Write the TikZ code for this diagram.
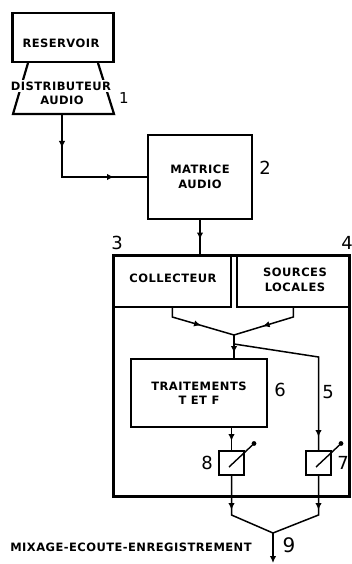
\documentclass[tikz,border=0pt]{standalone}
\usepackage{fontspec}
\usetikzlibrary{arrows.meta,decorations.markings,calc}
\newfontfamily\lblfont[LetterSpace=4]{DejaVu Sans}
\newfontfamily\numfont{DejaVu Sans}
\begin{document}
\begin{tikzpicture}[x=1pt,y=-1pt,
  box/.style={draw, line width=2.8pt, inner sep=0pt, outer sep=0pt},
  txt/.style={font=\lblfont\bfseries\fontsize{11.5}{14.5}\selectfont, align=center, inner sep=0pt},
  num/.style={font=\numfont\fontsize{18}{18}\selectfont, inner sep=0pt},
  conn/.style={line width=1.5pt},
  fad/.style={draw, line width=1.8pt, minimum width=25pt, minimum height=24pt, inner sep=0pt, outer sep=0pt},
  marr/.style={postaction={decorate,decoration={markings,
     mark=at position #1 with {\arrow{Latex[length=7pt,width=6.5pt]}}}}}]
\useasboundingbox (0,0) rectangle (352,564);
\fill[white] (0,0) rectangle (352,564);
% reservoir
\node[box, minimum width=101pt, minimum height=49pt] (res) at (63,37.5) {};
\node[txt] (restxt) at (61,43) {RESERVOIR};
% distributeur
\draw[line width=2.2pt] (28,63) -- (13,114) -- (114,114) -- (98,63);
\node[txt, fill=white, inner sep=1.5pt] (dist) at (61,86) {DISTRIBUTEUR};
\node[txt] (distb2) at (62,100) {AUDIO};
\coordinate (distb) at (62,114);
\node[num, font=\numfont\fontsize{15}{15}\selectfont] (n1) at (124,98) {1};
% matrice
\node[box, minimum width=104pt, minimum height=84pt, txt] (mat) at (200,177) {MATRICE\\AUDIO};
\node[num] (n2) at (265,168) {2};
\draw[conn, marr=34pt, marr=-34pt] (distb) -- (distb |- mat.west) -- (mat.west);
% big box
\node[box, minimum width=236pt, minimum height=241pt] (big) at (231.5,376) {};
\node[box, minimum width=117.5pt, minimum height=51.5pt] (coll) at (172.25,281.25) {};
\node[box, minimum width=112.5pt, minimum height=51.5pt] (src) at (293.25,281.25) {};
\node[txt] (colltxt) at (173,278) {COLLECTEUR};
\node[txt] (srctxt) at (295,280) {SOURCES\\LOCALES};
\draw[conn, marr=-16pt] (mat.south) -- (mat.south |- big.north);
\node[num] (n3) at (117,243) {3};
\node[num] (n4) at (347,243) {4};
% merge
\coordinate (j) at (234,335);
\coordinate (jb) at (234,344);
\draw[conn, marr=40pt] (coll.south) -- ++(0,10) -- (j);
\draw[conn, marr=42pt] (src.south) -- ++(0,10) -- (j);
% traitements
\node[box, minimum width=136pt, minimum height=68pt, txt] (trt) at (199,393) {TRAITEMENTS\\T ET F};
\node[num] (n6) at (280,390) {6};
\draw[conn, marr=-6pt] (j) -- (trt.north -| j);
% faders
\node[fad] (f8) at (231.5,463) {};
\node[fad] (f7) at (318.5,463) {};
\coordinate (jb2) at (318.5,357);
\draw[conn, marr=-14pt] (jb) -- (jb2) -- (f7.north);
\node[num] (n5) at (328,392) {5};
\draw[conn, marr=-10pt] (trt.south -| f8.north) -- (f8.north);
\foreach \f in {f8,f7}{
  \draw[line width=1.4pt] ($(\f.center)+(-2.5,4)$) -- ($(\f.center)+(21,-18)$);
  \fill ($(\f.center)+(22.5,-19.5)$) circle (2.4pt);
}
\node[num] (n8) at (207,463) {8};
\node[num] (n7) at (343,463) {7};
% outputs
\coordinate (m8) at (231.5,515);
\coordinate (m7) at (318.5,515);
\coordinate (j9) at (273,533);
\coordinate (out) at (273,563);
\draw[conn, marr=35pt] (f8.south) -- (m8) -- (j9);
\draw[conn, marr=35pt] (f7.south) -- (m7) -- (j9);
\draw[conn, -{Latex[length=7pt,width=6.5pt]}] (j9) -- (out);
\node[num, font=\numfont\fontsize{20}{20}\selectfont] (n9) at (289,545) {9};
\node[txt] (mix) at (131,547) {MIXAGE-ECOUTE-ENREGISTREMENT};
\end{tikzpicture}
\end{document}
